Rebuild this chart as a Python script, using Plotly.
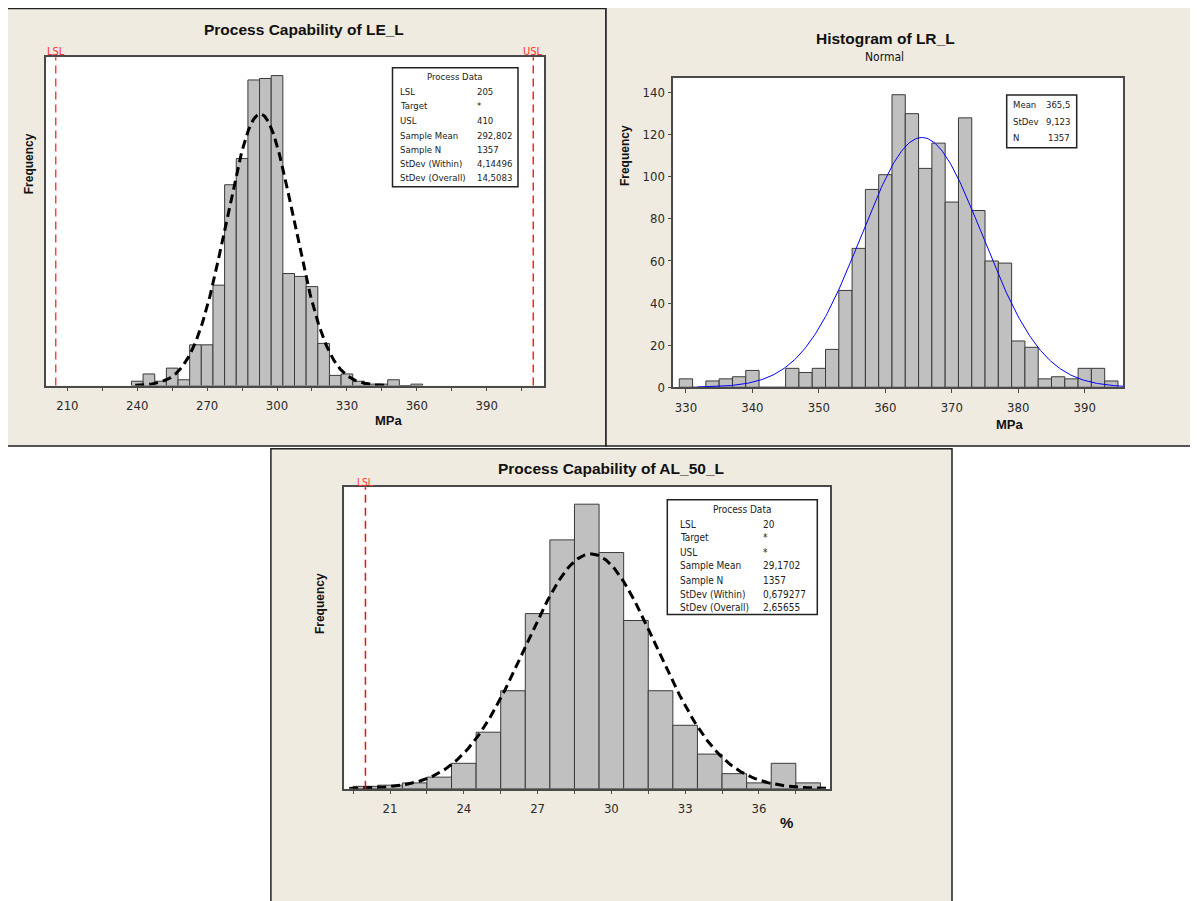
import numpy as np
import plotly.graph_objects as go

# page window 1198x901; plotly html body has an 8px default margin
OFF = 8
W, H = 1198 - OFF, 901 - OFF

# ---------------- data ----------------
# Panel 1: Process Capability of LE_L (MPa), bin width 5
le_bins = [240, 245, 250, 255, 260, 265, 270, 275, 280, 285, 290, 295, 300,
           305, 310, 315, 320, 325, 330, 335, 340, 345, 350, 355, 360]
le_counts = [3, 8, 3, 12, 4, 28, 28, 69, 138, 156, 210, 211, 213,
             77, 75, 68, 29, 7, 8, 3, 1, 1, 4, 0, 1]
le_width = 5
le_lsl, le_usl = 205, 410
le_mean, le_sd_within, le_sd_overall, le_n = 292.802, 4.14496, 14.5083, 1357
le_ticks = [210, 240, 270, 300, 330, 360, 390]
le_minor = [225, 255, 285, 315, 345, 375, 405]
le_table_labels = ["LSL", "Target", "USL", "Sample Mean", "Sample N", "StDev (Within)", "StDev (Overall)"]
le_table_values = ["205", "*", "410", "292,802", "1357", "4,14496", "14,5083"]

# Panel 2: Histogram of LR_L (MPa), bin width 2
lr_bins = [330, 332, 334, 336, 338, 340, 342, 344, 346, 348, 350, 352, 354, 356,
           358, 360, 362, 364, 366, 368, 370, 372, 374, 376, 378, 380, 382, 384,
           386, 388, 390, 392, 394]
lr_counts = [4, 0, 3, 4, 5, 8, 0, 0, 9, 7, 9, 18, 46, 66,
             94, 101, 139, 130, 104, 116, 88, 128, 84, 60, 59, 22, 19, 4,
             5, 4, 9, 9, 3]
lr_width = 2
lr_mean, lr_sd, lr_n = 365.5, 9.123, 1357
lr_xticks = [330, 340, 350, 360, 370, 380, 390]
lr_yticks = [0, 20, 40, 60, 80, 100, 120, 140]
lr_table_labels = ["Mean", "StDev", "N"]
lr_table_values = ["365,5", "9,123", "1357"]

# Panel 3: Process Capability of AL_50_L (%), bin width 1
al_bins = [20, 21, 22, 23, 24, 25, 26, 27, 28, 29, 30, 31, 32, 33, 34, 35, 36, 37, 38]
al_counts = [2, 3, 5, 10, 22, 49, 85, 152, 216, 247, 205, 146, 85, 55, 30, 13, 5, 22, 5]
al_width = 1
al_lsl = 20
al_mean, al_sd_within, al_sd_overall, al_n = 29.1702, 0.679277, 2.65655, 1357
al_ticks = [21, 24, 27, 30, 33, 36]
al_minor = [19.5, 22.5, 25.5, 28.5, 31.5, 34.5, 37.5]
al_table_labels = ["LSL", "Target", "USL", "Sample Mean", "Sample N", "StDev (Within)", "StDev (Overall)"]
al_table_values = ["20", "*", "*", "29,1702", "1357", "0,679277", "2,65655"]

# ---------------- helpers ----------------
def px(x):
    return (x - OFF) / W

def py(y):
    return 1 - (y - OFF) / H

FONT = "Liberation Sans Narrow, DejaVu Sans Condensed, Arial Narrow, Liberation Sans, sans-serif"
BOLD = "Liberation Sans, Arial, sans-serif"
BEIGE = "#EFEBE1"
BAR_FILL = "#C0C0C0"
BAR_LINE = "#3A3A3A"
FRAME = "#4A4A4A"

def normal_curve(mean, sd, n, bw, lo, hi):
    a = max(lo, mean - 3.7 * sd)
    b = min(hi, mean + 3.7 * sd)
    xs = np.linspace(a, b, 300)
    ys = n * bw * np.exp(-0.5 * ((xs - mean) / sd) ** 2) / (sd * np.sqrt(2 * np.pi))
    return xs, ys

fig = go.Figure()
shapes = []
ann = []

# panel backgrounds
for (x0, y0, x1, y1) in [(7.2, 8.6, 606, 450), (606, 6.7, 1260, 450), (270.9, 452.7, 952, 960)]:
    shapes.append(dict(type="rect", xref="paper", yref="paper", x0=px(x0), x1=px(x1),
                       y0=py(y1), y1=py(y0), fillcolor=BEIGE,
                       line=dict(color="#222222", width=1.5), layer="below"))

# plot areas (pixel boxes)
box1 = (45.7, 57.7, 544, 389)
box2 = (673.3, 78.3, 1123.3, 390.7)
box3 = (344.3, 491.7, 830, 795.7)
for (x0, y0, x1, y1) in [box1, box2, box3]:
    shapes.append(dict(type="rect", xref="paper", yref="paper", x0=px(x0), x1=px(x1),
                       y0=py(y1), y1=py(y0), fillcolor="white", line=dict(width=0),
                       layer="below"))

def axis_common():
    return dict(showgrid=False, zeroline=False, showline=True, linecolor=FRAME,
                linewidth=1.5, mirror=True, tickfont=dict(family=FONT, size=13, color="#2a2a2a"),
                ticks="outside", ticklen=4, tickcolor=FRAME)

# ---- Panel 1 ----
fig.add_trace(go.Bar(x=le_bins, y=le_counts, width=le_width, marker=dict(color=BAR_FILL,
                     line=dict(color=BAR_LINE, width=1)), xaxis="x", yaxis="y", showlegend=False))
cx, cy = normal_curve(le_mean, le_sd_overall, le_n, le_width, 200.7, 414.6)
fig.add_trace(go.Scatter(x=cx, y=cy, mode="lines", line=dict(color="black", width=3, dash="9px,5px"),
                         xaxis="x", yaxis="y", showlegend=False))

# ---- Panel 2 ----
fig.add_trace(go.Bar(x=lr_bins, y=lr_counts, width=lr_width, marker=dict(color=BAR_FILL,
                     line=dict(color=BAR_LINE, width=1)), xaxis="x2", yaxis="y2", showlegend=False))
cx, cy = normal_curve(lr_mean, lr_sd, lr_n, lr_width, 328.1, 395.8)
fig.add_trace(go.Scatter(x=cx, y=cy, mode="lines", line=dict(color="#0000FF", width=1),
                         xaxis="x2", yaxis="y2", showlegend=False))

# ---- Panel 3 ----
fig.add_trace(go.Bar(x=al_bins, y=al_counts, width=al_width, marker=dict(color=BAR_FILL,
                     line=dict(color=BAR_LINE, width=1)), xaxis="x3", yaxis="y3", showlegend=False))
cx, cy = normal_curve(al_mean, al_sd_overall, al_n, al_width, 19.14, 38.89)
fig.add_trace(go.Scatter(x=cx, y=cy, mode="lines", line=dict(color="black", width=3, dash="9px,5px"),
                         xaxis="x3", yaxis="y3", showlegend=False))

# axes
xa1 = axis_common()
xa1.update(domain=[px(box1[0]), px(box1[2])], range=[200.7, 414.6], tickvals=le_ticks, anchor="y",
           ticklabelstandoff=3,
           minor=dict(tickvals=le_minor, ticks="outside", ticklen=4, tickcolor=FRAME))
ya1 = axis_common()
ya1.update(domain=[py(box1[3]), py(box1[1])], range=[0, 225.6], showticklabels=False, ticks="", anchor="x")

xa2 = axis_common()
xa2.update(domain=[px(box2[0]), px(box2[2])], range=[328.1, 395.8], tickvals=lr_xticks, anchor="y2",
           ticklabelstandoff=3)
ya2 = axis_common()
ya2.update(domain=[py(box2[3]), py(box2[1])], range=[0, 147.1], tickvals=lr_yticks, anchor="x2")

xa3 = axis_common()
xa3.update(domain=[px(box3[0]), px(box3[2])], range=[19.14, 38.89], tickvals=al_ticks, anchor="y3",
           ticklabelstandoff=3,
           minor=dict(tickvals=al_minor, ticks="outside", ticklen=4, tickcolor=FRAME))
ya3 = axis_common()
ya3.update(domain=[py(box3[3]), py(box3[1])], range=[0, 261.6], showticklabels=False, ticks="", anchor="x3")

# spec lines
for (xr, yr, v, col) in [("x", "y", le_lsl, "#FF4040"), ("x", "y", le_usl, "#FF2020"), ("x3", "y3", al_lsl, "#F01010")]:
    shapes.append(dict(type="line", xref=xr, yref=yr + " domain", x0=v, x1=v, y0=0, y1=1,
                       line=dict(color=col, width=1.5, dash="8px,5px"), layer="above"))
ann.append(dict(text="LSL", x=le_lsl, xref="x", y=py(51.7), yref="paper", showarrow=False,
                yanchor="middle", font=dict(family=FONT, size=11, color="#FF3030")))
ann.append(dict(text="USL", x=le_usl, xref="x", y=py(51.7), yref="paper", showarrow=False,
                yanchor="middle", font=dict(family=FONT, size=11, color="#FF3030")))
ann.append(dict(text="LSL", x=al_lsl, xref="x3", y=py(486.5), yref="paper", showarrow=False,
                yanchor="middle", font=dict(family=FONT, size=10, color="#FF3030")))

# titles
def text(t, x, y, size, bold=False, color="#111", angle=0, xanchor="center", family=None):
    ann.append(dict(text=("<b>%s</b>" % t) if bold else t, x=px(x), y=py(y), xref="paper", yref="paper",
                    showarrow=False, xanchor=xanchor, yanchor="middle", textangle=angle,
                    font=dict(family=family or (BOLD if bold else FONT), size=size, color=color)))

text("Process Capability of LE_L", 304, 29.3, 15.5, bold=True)
text("Histogram of LR_L", 885.4, 38.3, 15.5, bold=True)
text("Normal", 884.3, 57.3, 12)
text("Process Capability of AL_50_L", 610.6, 472.7, 15.5, bold=True)

text("Frequency", 29, 165.7, 12, bold=True, angle=-90)
text("Frequency", 625.7, 156.7, 12, bold=True, angle=-90)
text("Frequency", 320.2, 609.3, 12, bold=True, angle=-90)
text("MPa", 389.4, 424.3, 13, bold=True)
text("MPa", 1009.6, 428.3, 13, bold=True)
text("%", 786, 830, 15, bold=True)

# process data tables
def table(bx0, by0, bx1, by1, title_y, rows_y, lab_x, val_x, labels, values, title=None,
          val_anchor="left", size=10):
    shapes.append(dict(type="rect", xref="paper", yref="paper", x0=px(bx0), x1=px(bx1),
                       y0=py(by1), y1=py(by0), fillcolor="white",
                       line=dict(color="#222", width=1.5), layer="above"))
    if title:
        text(title, (bx0 + bx1) / 2, title_y, size, color="#222")
    for lab, val, yy in zip(labels, values, rows_y):
        text(lab, lab_x, yy, size, color="#222", xanchor="left")
        text(val, val_x, yy, size, color="#222", xanchor=val_anchor)

table(392.5, 68.3, 518, 188.3, 77.3, [92.3, 106.7, 121.3, 136.3, 150.3, 165.3, 179.3],
      398, 474.6, le_table_labels, le_table_values, title="Process Data", size=9.5)
table(1006.7, 95.7, 1076.7, 149, None, [105, 122.3, 138.3], 1010.5, 1072,
      lr_table_labels, lr_table_values, val_anchor="right", size=9.5)
table(667.3, 504.3, 817.3, 620, 514.3, [528.7, 542.3, 557.3, 571, 585.3, 599.3, 613.3],
      677.5, 760.7, al_table_labels, al_table_values, title="Process Data", size=10)

fig.update_layout(width=W, height=H, margin=dict(l=0, r=0, t=0, b=0),
                  paper_bgcolor="white", plot_bgcolor="rgba(0,0,0,0)",
                  xaxis=xa1, yaxis=ya1, xaxis2=xa2, yaxis2=ya2, xaxis3=xa3, yaxis3=ya3,
                  shapes=shapes, annotations=ann, barmode="overlay", showlegend=False)

fig.write_html("out.html")
